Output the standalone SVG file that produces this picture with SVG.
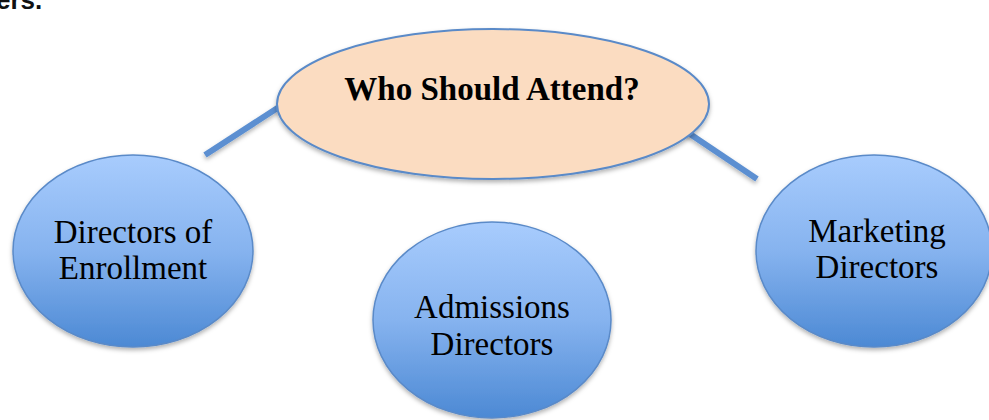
<svg xmlns="http://www.w3.org/2000/svg" width="989" height="420" viewBox="0 0 989 420">
  <style>
    .conn { stroke: #5B8FD1; stroke-width: 6; stroke-linecap: butt; fill: none; filter: url(#shadow); }
    .blue { fill: url(#blueGrad); stroke: #5A8AC8; stroke-width: 1.5; filter: url(#shadow); }
    .peach { fill: #FBDCC1; stroke: #5A8AC8; stroke-width: 2; filter: url(#shadow); }
    .lbl { font-family: "Liberation Serif", "Times New Roman", serif; font-size: 33px; fill: #000; text-anchor: middle; }
    .title { font-family: "Liberation Serif", "Times New Roman", serif; font-size: 33px; font-weight: bold; fill: #000; text-anchor: middle; }
    .head { font-family: "Liberation Sans", Arial, sans-serif; font-size: 26px; font-weight: bold; fill: #111; }
  </style>
  <defs>
    <linearGradient id="blueGrad" x1="0" y1="0" x2="0" y2="1">
      <stop offset="0" stop-color="#A8CCFD"/>
      <stop offset="0.5" stop-color="#86B3EF"/>
      <stop offset="1" stop-color="#4C89D4"/>
    </linearGradient>
    <filter id="shadow" x="-10%" y="-10%" width="120%" height="130%">
      <feDropShadow dx="0" dy="2.5" stdDeviation="2" flood-color="#000" flood-opacity="0.3"/>
    </filter>
  </defs>
  <rect width="989" height="420" fill="#fff"/>
  <text class="head" x="-4" y="9">ers.</text>
  <g id="connectors">
    <line class="conn" x1="205" y1="155" x2="279" y2="107"/>
    <line class="conn" x1="492" y1="175" x2="492" y2="203"/>
    <line class="conn" x1="684" y1="130" x2="757" y2="179"/>
  </g>
  <g id="who">
    <ellipse class="peach" cx="493" cy="104" rx="216" ry="75"/>
    <text class="title" x="492" y="100">Who Should Attend?</text>
  </g>
  <g id="enrollment">
    <ellipse class="blue" cx="133" cy="251" rx="120" ry="96"/>
    <text class="lbl" x="133" y="243">Directors of</text>
    <text class="lbl" x="133" y="279">Enrollment</text>
  </g>
  <g id="admissions">
    <ellipse class="blue" cx="492" cy="320" rx="119" ry="98"/>
    <text class="lbl" x="492" y="318">Admissions</text>
    <text class="lbl" x="492" y="355">Directors</text>
  </g>
  <g id="marketing">
    <ellipse class="blue" cx="874" cy="251" rx="118" ry="96"/>
    <text class="lbl" x="877" y="242">Marketing</text>
    <text class="lbl" x="877" y="278">Directors</text>
  </g>
</svg>
